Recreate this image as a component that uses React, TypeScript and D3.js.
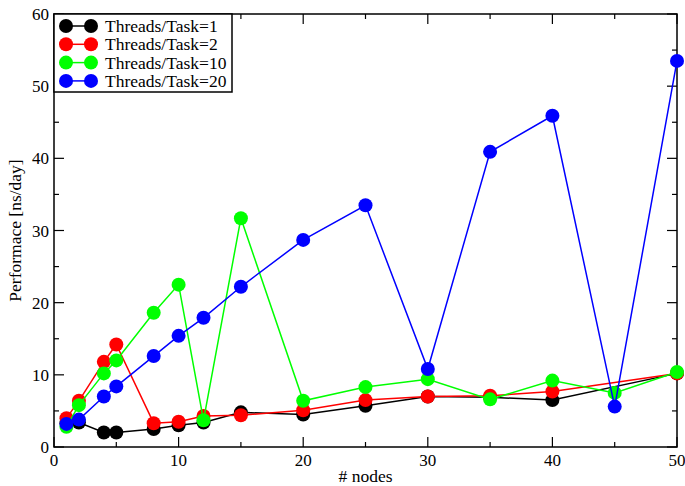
import React, { useEffect, useRef } from "react";
import * as d3 from "d3";

const nodes = [1, 2, 4, 5, 8, 10, 12, 15, 20, 25, 30, 35, 40, 45, 50];

// null = no point measured at that node count
const threads1 = [3.3, 3.4, 2.0, 2.0, 2.5, 3.0, 3.4, 4.8, 4.5, 5.7, 7.0, 6.9, 6.5, null, 10.2];
const threads2 = [4.0, 6.4, 11.8, 14.2, 3.3, 3.5, 4.3, 4.4, 5.1, 6.5, 7.0, 7.1, 7.7, null, 10.2];
const threads10 = [2.8, 5.8, 10.2, 12.0, 18.6, 22.5, 3.7, 31.7, 6.4, 8.3, 9.4, 6.6, 9.2, 7.5, 10.4];
const threads20 = [3.2, 3.8, 7.0, 8.4, 12.6, 15.4, 17.9, 22.2, 28.7, 33.5, 10.8, 40.9, 45.9, 5.6, 53.5];

const seriesNames = ["Threads/Task=1", "Threads/Task=2", "Threads/Task=10", "Threads/Task=20"];
const seriesColors = ["#000000", "#ff0000", "#00ff00", "#0000ff"];

const xTicks = [0, 10, 20, 30, 40, 50];
const yTicks = [0, 10, 20, 30, 40, 50, 60];

const W = 685;
const H = 486;

const App = () => {
  const ref = useRef<SVGSVGElement>(null);

  useEffect(() => {
    const svg = d3.select(ref.current);
    svg.selectAll("*").remove();

    const left = 54, right = 677, top = 14, bottom = 447;
    const x = d3.scaleLinear().domain([0, 50]).range([left, right]);
    const y = d3.scaleLinear().domain([0, 60]).range([bottom, top]);
    const font = "'Liberation Serif', 'Times New Roman', serif";

    const all = [threads1, threads2, threads10, threads20];

    // frame
    svg.append("rect")
      .attr("x", left).attr("y", top)
      .attr("width", right - left).attr("height", bottom - top)
      .attr("fill", "none").attr("stroke", "#000").attr("stroke-width", 1.5);

    // ticks on all four sides, pointing inward
    const ticks = svg.append("g").attr("stroke", "#000").attr("stroke-width", 1.2);
    d3.range(0, 51, 5).forEach((v) => {
      const len = v % 10 === 0 ? 10 : 5;
      ticks.append("line").attr("x1", x(v)).attr("x2", x(v)).attr("y1", bottom).attr("y2", bottom - len);
      ticks.append("line").attr("x1", x(v)).attr("x2", x(v)).attr("y1", top).attr("y2", top + len);
    });
    d3.range(0, 61, 5).forEach((v) => {
      const len = v % 10 === 0 ? 10 : 5;
      ticks.append("line").attr("y1", y(v)).attr("y2", y(v)).attr("x1", left).attr("x2", left + len);
      ticks.append("line").attr("y1", y(v)).attr("y2", y(v)).attr("x1", right).attr("x2", right - len);
    });

    svg.append("g").selectAll("text").data(xTicks).join("text")
      .attr("x", (d) => x(d)).attr("y", bottom + 19)
      .attr("text-anchor", "middle")
      .attr("font-family", font).attr("font-size", 17)
      .text((d) => d);

    svg.append("g").selectAll("text").data(yTicks).join("text")
      .attr("x", left - 5).attr("y", (d) => y(d) + 6)
      .attr("text-anchor", "end")
      .attr("font-family", font).attr("font-size", 17)
      .text((d) => d);

    svg.append("text")
      .attr("x", (left + right) / 2).attr("y", 482)
      .attr("text-anchor", "middle")
      .attr("font-family", font).attr("font-size", 17.5)
      .text("# nodes");

    svg.append("text")
      .attr("transform", `translate(21,${(top + bottom) / 2}) rotate(-90)`)
      .attr("text-anchor", "middle")
      .attr("font-family", font).attr("font-size", 17.5)
      .text("Performace [ns/day]");

    all.forEach((vals, k) => {
      const pts = nodes
        .map((n, i) => [n, vals[i]] as [number, number | null])
        .filter((p) => p[1] != null) as [number, number][];
      const line = d3.line<[number, number]>()
        .x((d) => x(d[0]))
        .y((d) => y(d[1]));
      const g = svg.append("g");
      g.append("path")
        .attr("d", line(pts))
        .attr("fill", "none")
        .attr("stroke", seriesColors[k])
        .attr("stroke-width", 1.5);
      g.selectAll("circle").data(pts).join("circle")
        .attr("cx", (d) => x(d[0]))
        .attr("cy", (d) => y(d[1]))
        .attr("r", 7)
        .attr("fill", seriesColors[k]);
    });

    // legend
    const lg = svg.append("g");
    lg.append("rect")
      .attr("x", left).attr("y", top)
      .attr("width", 178).attr("height", 78)
      .attr("fill", "#fff").attr("stroke", "#000").attr("stroke-width", 1.5);
    seriesNames.forEach((name, k) => {
      const ly = 26 + k * 18.3;
      lg.append("line")
        .attr("x1", 66).attr("x2", 91).attr("y1", ly).attr("y2", ly)
        .attr("stroke", seriesColors[k]).attr("stroke-width", 1.5);
      [66, 91].forEach((cx) => {
        lg.append("circle").attr("cx", cx).attr("cy", ly).attr("r", 7).attr("fill", seriesColors[k]);
      });
      lg.append("text")
        .attr("x", 105).attr("y", ly + 6)
        .attr("font-family", font).attr("font-size", 17.5)
        .text(name);
    });
  }, []);

  return (
    <svg ref={ref} width={W} height={H} style={{ display: "block", position: "absolute", left: 0, top: 0 }} />
  );
};

export default App;
